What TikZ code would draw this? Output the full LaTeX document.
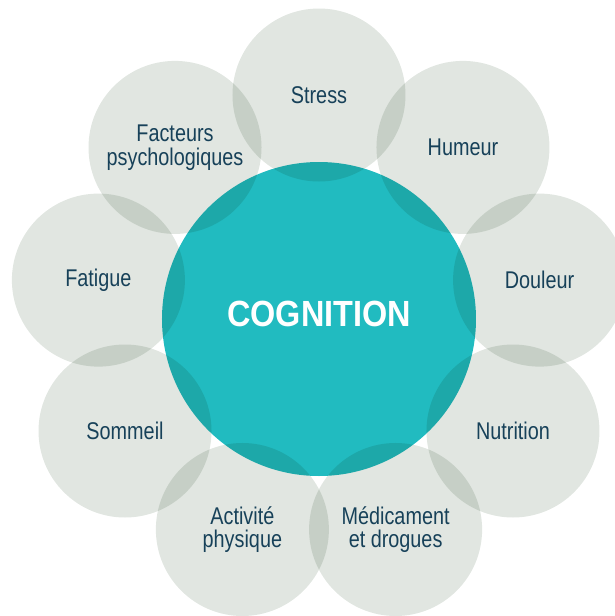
\documentclass[tikz,border=0pt]{standalone}
\usepackage{fontspec}
\setmainfont{Liberation Sans}[FakeStretch=0.82]
\newfontfamily\titlefont{Liberation Sans}[FakeStretch=0.89]
\definecolor{cogteal}{HTML}{21BBC0}
\definecolor{petalgray}{HTML}{E1E6E1}
\definecolor{labelblue}{HTML}{1B4965}

\begin{document}
\begin{tikzpicture}[
    petal/.style={circle, minimum size=4.325cm, inner sep=0pt, fill=petalgray, blend mode=multiply,
        text=labelblue, align=center, font=\fontsize{17.2}{16.8}\selectfont},
    core/.style={circle, minimum size=7.85cm, inner sep=0pt, fill=cogteal}]
    \useasboundingbox (-7.975,-7.425) rectangle (7.4,7.975);

    \node[core] (cognition) at (0,0) {};
    \node[text=white, font=\titlefont\bfseries\fontsize{25.9}{27}\selectfont] (titre) at (0,0.125) {COGNITION};

    \node[petal] (stress) at (90:5.6) {Stress};
    \node[petal] (humeur) at (50:5.6) {Humeur};
    \node[petal] (douleur) at (10:5.6) {Douleur};
    \node[petal] (nutrition) at (-30:5.6) {Nutrition};
    \node[petal] (medicament) at (-70:5.6) {Médicament\\et drogues};
    \node[petal] (activite) at (-110:5.6) {Activité\\physique};
    \node[petal] (sommeil) at (-150:5.6) {Sommeil};
    \node[petal] (fatigue) at (170:5.6) {Fatigue};
    \node[petal] (facteurs) at (130:5.6) {Facteurs\\psychologiques};
\end{tikzpicture}
\end{document}
